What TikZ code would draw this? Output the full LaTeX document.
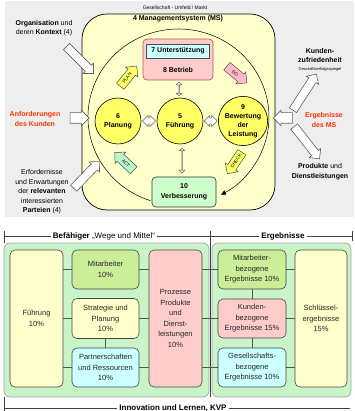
\documentclass[tikz,border=0pt]{standalone}
\usepackage{fontspec}
\setmainfont{Liberation Sans}
\usetikzlibrary{shapes.arrows,calc,arrows.meta}
\definecolor{bggrey}{HTML}{EEEEEE}
\definecolor{msyellow}{HTML}{FFFFCC}
\definecolor{circyellow}{HTML}{FFFF66}
\definecolor{pinkf}{HTML}{FFCCCC}
\definecolor{pinkd}{HTML}{B05A5A}
\definecolor{cyanf}{HTML}{CCFFFF}
\definecolor{greenf}{HTML}{CCFFCC}
\definecolor{redtxt}{HTML}{FF3300}
\definecolor{outergreen}{HTML}{C8F4C8}
\definecolor{mitgreen}{HTML}{CCEE99}
\definecolor{linegrey}{HTML}{555555}
\definecolor{doPink}{HTML}{FFBBCC}
\definecolor{actGreen}{HTML}{BBF5CC}
\begin{document}
\begin{tikzpicture}[x=1pt,y=-1pt,
  txt/.style={align=center,inner sep=0pt,font=\fontsize{7}{9.5}\selectfont},
  redlbl/.style={txt,text=redtxt,font=\fontsize{7}{9.5}\selectfont\bfseries},
  circ/.style={circle,draw=black,line width=0.6pt,fill=circyellow,minimum size=46pt,inner sep=0pt,align=center,font=\fontsize{7}{9}\selectfont\bfseries},
  dblarrow/.style={double arrow,draw=gray!80!black,line width=0.5pt,fill=white,inner xsep=0pt,inner ysep=2.8pt,double arrow head extend=2.5pt},
  whitearrow/.style={single arrow,draw=gray!75!black,line width=0.6pt,fill=white,inner xsep=0pt,inner ysep=4pt,single arrow head extend=3pt},
  pdca/.style={single arrow,draw=gray!60!black,line width=0.5pt,minimum height=26pt,single arrow head extend=3pt,inner xsep=0.5pt,inner ysep=3pt,font=\fontsize{4.5}{5}\selectfont},
  ebox/.style={draw=gray!55!black,line width=0.6pt,rounded corners=5pt,align=center,inner sep=1pt,text=black!85,font=\fontsize{7.5}{10.5}\selectfont},
  gbox/.style={draw=gray!70,line width=0.7pt,fill=outergreen,rounded corners=6pt,inner sep=0pt},
  conn/.style={draw=linegrey,line width=0.7pt},
  brk/.style={draw=black!75,line width=0.6pt},
  brklbl/.style={fill=white,inner sep=2pt,font=\fontsize{8}{9}\selectfont}]
\useasboundingbox (0,0) rectangle (354,411);
% ---------- upper part ----------
\fill[bggrey] (5,1) rectangle (354,217);
\node[txt,font=\fontsize{5}{6}\selectfont] (ges) at (175,8) {Gesellschaft - Umfeld / Markt};
\node[draw=black,line width=0.7pt,fill=msyellow,rounded corners=25pt,minimum width=193pt,minimum height=196pt] (ms) at (178.5,112) {};
\node[txt,font=\fontsize{7}{8}\selectfont\bfseries] (mstitle) at (178,19) {4 Managementsystem (MS)};
% PDCA cycle
\coordinate (arcstart) at (150.5,200.7);
\draw[line width=0.5pt,-{Triangle[length=5pt,width=4.5pt]}] (arcstart) arc[start angle=108,end angle=422,x radius=90.5,y radius=88];
% support / operation
\node[draw=pinkd,line width=0.7pt,fill=pinkf,rounded corners=4pt,minimum width=70pt,minimum height=41pt] (pk) at (178,59.5) {};
\node[draw=black!70,line width=0.6pt,fill=cyanf,minimum width=63pt,minimum height=14pt,inner sep=0pt,font=\fontsize{7}{8}\selectfont\bfseries] (us) at (178,51) {7 Unterstützung};
\node[txt,font=\fontsize{7}{8}\selectfont\bfseries] (be) at (178,70) {8 Betrieb};
% circles
\node[circ] (pl) at (118,121) {6\\Planung};
\node[circ] (fh) at (180,121) {5\\Führung};
\node[circ] (bw) at (243,121) {9\\Bewertung\\der\\Leistung};
\node[draw=black!80,line width=0.6pt,fill=greenf,rounded corners=4pt,minimum width=64pt,minimum height=30pt,align=center,inner sep=0pt,font=\fontsize{7}{9.5}\selectfont\bfseries] (vb) at (184,192) {10\\Verbesserung};
% double arrows
\node[dblarrow,minimum height=13pt] (d1) at ($(pl.east)!0.5!(fh.west)$) {};
\node[dblarrow,minimum height=13pt] (d2) at ($(fh.east)!0.5!(bw.west)$) {};
\node[dblarrow,minimum height=14pt,shape border rotate=90] (d3) at ($(pk.south)!0.5!(fh.north)$) {};
\node[dblarrow,minimum height=25pt,shape border rotate=90] (d4) at ($(fh.south)!0.5!(vb.north)$) {};
% PDCA arrows
\node[pdca,fill=circyellow,rotate=51] (plan) at (127,78) {PLAN};
\node[pdca,fill=doPink,rotate=-40] (do) at (235,73) {DO};
\node[pdca,fill=circyellow,rotate=56,shape border rotate=180] (check) at (236,161) {CHECK};
\node[pdca,fill=actGreen,rotate=-43,shape border rotate=180] (act) at (126,163) {ACT};
% outside texts
\node[txt] (org) at (44,28) {\textbf{Organisation} und\\deren \textbf{Kontext} (4)};
\node[redlbl] (anf) at (35,119) {Anforderungen\\des Kunden};
\node[txt] (erf) at (42,192) {Erfordernisse\\und Erwartungen\\der \textbf{relevanten}\\interessierten\\\textbf{Parteien} (4)};
\node[txt,font=\fontsize{7}{9}\selectfont\bfseries] (kz) at (320,56) {Kunden-\\zufriedenheit};
\node[txt,font=\fontsize{4}{5}\selectfont] (kzs) at (320,69) {Geschäftserfolgsspiegel};
\node[redlbl] (erg) at (324,120) {Ergebnisse\\des MS};
\node[txt] (prod) at (320,171.5) {\textbf{Produkte} und\\\textbf{Dienstleistungen}};
% white arrows
\node[whitearrow,minimum height=38pt,rotate=-45] (wa1) at (78.5,58.5) {};
\node[whitearrow,minimum height=19pt,inner ysep=5pt,single arrow head extend=2.5pt] (wa2) at (77,118) {};
\node[whitearrow,minimum height=37pt,rotate=46] (wa3) at (85,176.5) {};
\node[whitearrow,minimum height=43pt,rotate=57] (wa4) at (303.5,94) {};
\node[whitearrow,minimum height=41pt,rotate=-52] (wa5) at (305.5,141) {};
\node[whitearrow,minimum height=19pt,inner ysep=5pt,single arrow head extend=2.5pt,rotate=180] (wj) at (285.5,118) {};
% ---------- lower part ----------
\draw[brk] (4,236) -- (352,236);
\draw[brk] (4,231) -- (4,243);
\draw[brk] (352,231) -- (352,241);
\node[brklbl] (bef) at (104,236) {\textbf{Befähiger} „Wege und Mittel“};
\node[brklbl] (ergt) at (283,236) {\textbf{Ergebnisse}};
\node[gbox,minimum width=205pt,minimum height=154pt] (gl) at (106.5,320) {};
\node[gbox,minimum width=139pt,minimum height=154pt] (gr) at (281.5,320) {};
\draw[brk] (210,231) -- (210,397);
\node[ebox,fill=msyellow,minimum width=53pt,minimum height=137pt] (fu) at (36.5,318.5) {Führung\\10\%};
\node[ebox,fill=mitgreen,minimum width=67pt,minimum height=39pt] (mi) at (105.5,269.5) {Mitarbeiter\\10\%};
\node[ebox,fill=msyellow,minimum width=67pt,minimum height=40pt] (st) at (105.5,318.5) {Strategie und\\Planung\\10\%};
\node[ebox,fill=cyanf,minimum width=67pt,minimum height=39pt] (pa) at (105.5,367.5) {Partnerschaften\\und Ressourcen\\10\%};
\node[ebox,fill=pinkf,minimum width=53pt,minimum height=137pt] (pr) at (175.5,318.5) {Prozesse\\Produkte\\und\\Dienst-\\leistungen\\10\%};
\node[ebox,fill=mitgreen,minimum width=68pt,minimum height=39pt] (mb) at (252,269.5) {Mitarbeiter-\\bezogene\\Ergebnisse 10\%};
\node[ebox,fill=pinkf,minimum width=68pt,minimum height=39pt] (kb) at (252,318.5) {Kunden-\\bezogene\\Ergebnisse 15\%};
\node[ebox,fill=cyanf,minimum width=68pt,minimum height=39pt] (gb) at (252,367.5) {Gesellschafts-\\bezogene\\Ergebnisse 10\%};
\node[ebox,fill=msyellow,minimum width=52pt,minimum height=137pt] (sk) at (321,318.5) {Schlüssel-\\ergebnisse\\15\%};
% connectors
\foreach \l/\r in {mi/mb,st/kb,pa/gb}{
  \draw[conn] (fu.east |- \l.west) -- (\l.west);
  \draw[conn] (\l.east) -- (pr.west |- \l.east);
  \draw[conn] (pr.east |- \r.west) -- (\r.west);
  \draw[conn] (\r.east) -- (sk.west |- \r.east);
}
\draw[conn] (st.south) -- (pa.north);
\draw[conn] (mb.south) -- (kb.north);
\draw[conn] (kb.south) -- (gb.north);
% bottom bracket
\draw[brk] (4,408) -- (350,408);
\draw[brk] (4,397) -- (4,411);
\node[brklbl] (inno) at (173,408) {\textbf{Innovation und Lernen, KVP}};
\end{tikzpicture}
\end{document}
